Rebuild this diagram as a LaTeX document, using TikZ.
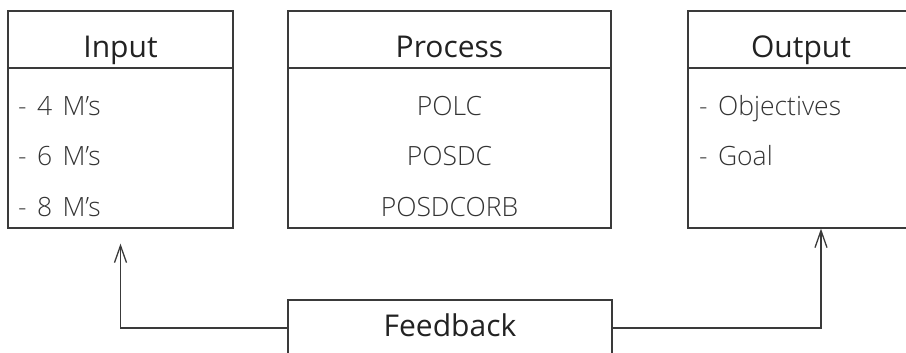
\documentclass[tikz,border=0pt]{standalone}
\usepackage{fontspec}
\setmainfont{Open Sans}
\newfontfamily\bodyfont{Open Sans}[UprightFont=* Light, WordSpace=1.5]
\usetikzlibrary{arrows.meta}
\definecolor{linec}{HTML}{3A3A3A}
\definecolor{headc}{HTML}{222222}
\definecolor{bodyc}{HTML}{333333}
\tikzset{
  boxshape/.style={draw=linec, line width=1.3pt, rectangle, inner sep=0pt},
  headtext/.style={font=\fontsize{30}{34}\selectfont, text=headc, inner sep=0pt},
  bodytext/.style={font=\bodyfont\fontsize{26.5}{30}\selectfont, text=bodyc, inner sep=0pt},
  sepline/.style={draw=linec, line width=1.3pt},
  arr/.style={draw=linec, line width=1.3pt, -{Straight Barb[length=17pt,width=12pt,line width=1.3pt]}}
}
\begin{document}
\begin{tikzpicture}[x=1pt,y=1pt]
\useasboundingbox[clip] (0,0) rectangle (906,353);
\fill[white] (0,0) rectangle (906,353);
% boxes
\node[boxshape, minimum width=225pt, minimum height=217pt] (input) at (120.5,233.5) {};
\node[boxshape, minimum width=323pt, minimum height=217pt] (process) at (449.5,233.5) {};
\node[boxshape, minimum width=226pt, minimum height=217pt] (output) at (801,233.5) {};
\node[boxshape, minimum width=324pt, minimum height=56pt] (feedback) at (450,25) {};
% header separators
\coordinate (inl) at (8,285); \coordinate (inr) at (233,285);
\coordinate (prl) at (288,285); \coordinate (prr) at (611,285);
\coordinate (oul) at (688,285); \coordinate (our) at (914,285);
\draw[sepline] (inl) -- (inr);
\draw[sepline] (prl) -- (prr);
\draw[sepline] (oul) -- (our);
% headers
\node[headtext, anchor=base] (inputh) at (120.5,295) {Input};
\node[headtext, anchor=base] (processh) at (449.5,295) {Process};
\node[headtext, anchor=base] (outputh) at (801,295) {Output};
\node[headtext, anchor=base] (feedbackh) at (450,16) {Feedback};
% input body
\node[bodytext, anchor=base west] (in1) at (18,237) {- 4 M’s};
\node[bodytext, anchor=base west] (in2) at (18,187) {- 6 M’s};
\node[bodytext, anchor=base west] (in3) at (18,136) {- 8 M’s};
% process body
\node[bodytext, anchor=base] (pr1) at (449.5,237) {POLC};
\node[bodytext, anchor=base] (pr2) at (449.5,187) {POSDC};
\node[bodytext, anchor=base] (pr3) at (449.5,136) {POSDCORB};
% output body
\node[bodytext, anchor=base west] (ou1) at (699,237) {- Objectives};
\node[bodytext, anchor=base west] (ou2) at (699,187) {- Goal};
% connectors
\coordinate (intip) at ([yshift=-15pt]input.south);
\coordinate (outtip) at ([xshift=20pt]output.south);
\draw[arr] (feedback.west) -| (intip);
\draw[arr] (feedback.east) -| (outtip);
\end{tikzpicture}
\end{document}
